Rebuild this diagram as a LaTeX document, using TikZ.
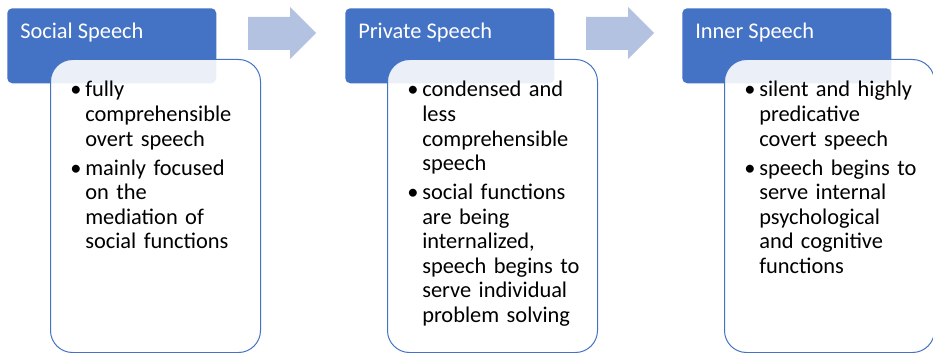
\documentclass[tikz,border=0pt]{standalone}
\usepackage{fontspec}
\setmainfont{Carlito}
\usetikzlibrary{positioning}

\definecolor{hdrblue}{HTML}{4472C4}
\definecolor{arrowblue}{HTML}{B4C2E2}

% one bullet point, hanging lines under the text
\newcommand{\bulletitem}[1]{\hangindent=11.25pt\hangafter=1\noindent\makebox[11.25pt][l]{\textbullet}#1\par}
\newcommand{\itemgap}{\vspace{3.4pt}}

\tikzset{
	header/.style={fill=hdrblue, rounded corners=3.75pt, anchor=north west, inner sep=0pt,
		minimum width=156.75pt, minimum height=56.25pt},
	headtext/.style={anchor=base west, inner sep=0pt, text=white,
		font=\fontsize{16.8}{18.4}\selectfont},
	textbox/.style={draw=hdrblue, line width=0.75pt, fill=white, fill opacity=0.89,
		rounded corners=16.5pt, anchor=north west, inner sep=0pt,
		minimum width=157.5pt, minimum height=219.75pt},
	bullets/.style={anchor=base west, inner sep=0pt, text width=140pt,
		font=\fontsize{16.8}{18.4}\selectfont},
	stagearrow/.style={fill=arrowblue}
}

\begin{document}
\begin{tikzpicture}[x=0.75pt, y=-0.75pt]

	\useasboundingbox (0,0) rectangle (933,353);

	% arrows between the stages
	\fill[stagearrow] (248,17) -- (290,17) -- (290,7) -- (316,33) -- (290,59) -- (290,50) -- (248,50) -- cycle;
	\fill[stagearrow] (586,17) -- (628,17) -- (628,7) -- (654,33) -- (628,59) -- (628,50) -- (586,50) -- cycle;

	% social speech
	\node[header] (hsocial) at (7,8) {};
	\node[headtext] (tsocial) at (20,39) {Social Speech};
	\node[textbox] (bsocial) at (50,59) {};
	\node[bullets] (lsocial) at (70,97) {%
		\bulletitem{fully\newline comprehensible\newline overt speech}\itemgap
		\bulletitem{mainly focused\newline on the\newline mediation of\newline social functions}};

	% private speech
	\node[header] (hprivate) at (345,8) {};
	\node[headtext] (tprivate) at (358,39) {Private Speech};
	\node[textbox] (bprivate) at (387,59) {};
	\node[bullets] (lprivate) at (407,97) {%
		\bulletitem{condensed and\newline less\newline comprehensible\newline speech}\itemgap
		\bulletitem{social functions\newline are being\newline internalized,\newline speech begins to\newline serve individual\newline problem solving}};

	% inner speech
	\node[header] (hinner) at (682,8) {};
	\node[headtext] (tinner) at (695,39) {Inner Speech};
	\node[textbox] (binner) at (724,59) {};
	\node[bullets] (linner) at (744,97) {%
		\bulletitem{silent and highly\newline predicative\newline covert speech}\itemgap
		\bulletitem{speech begins to\newline serve internal\newline psychological\newline and cognitive\newline functions}};

\end{tikzpicture}
\end{document}
